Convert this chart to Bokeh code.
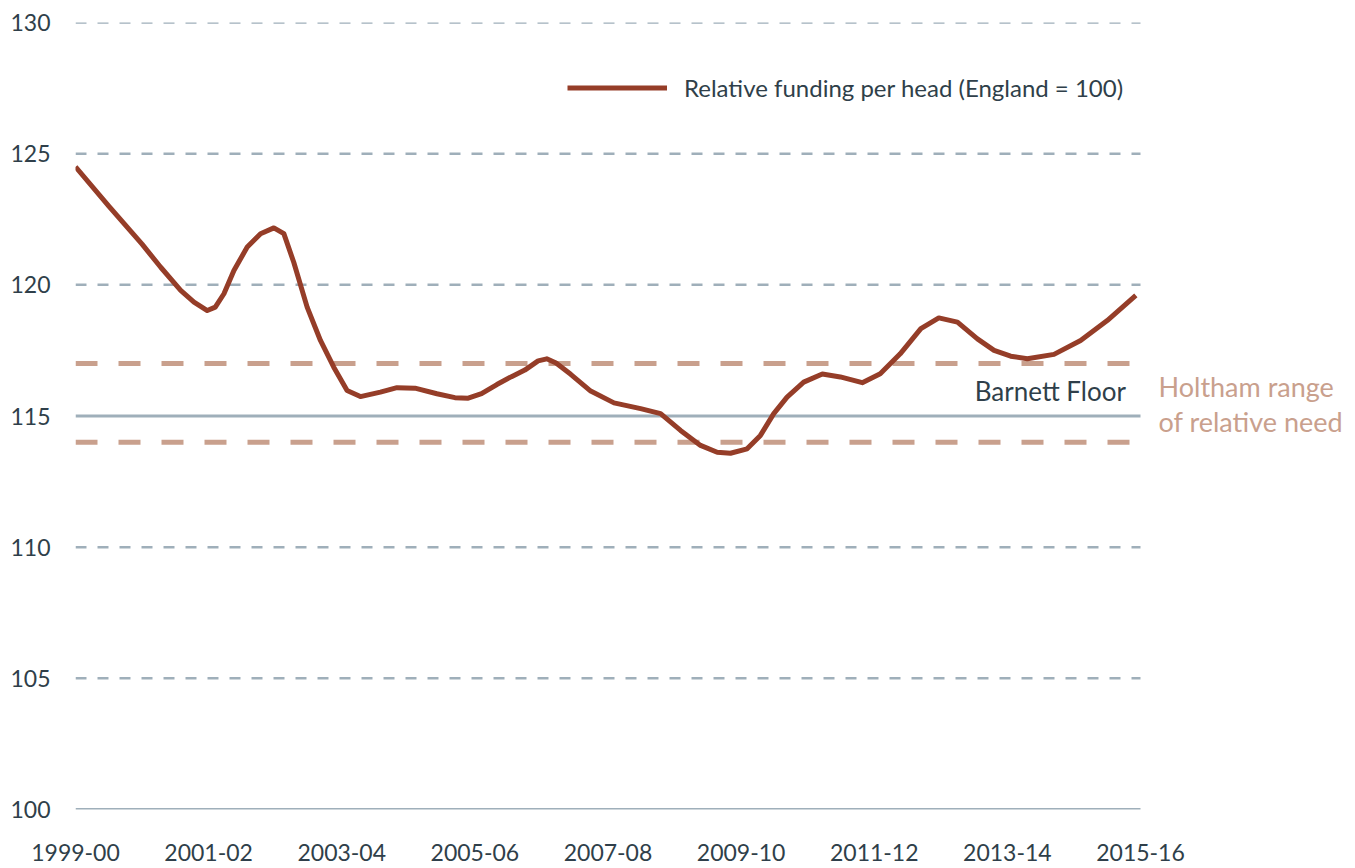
from bokeh.plotting import figure
from bokeh.models import Label, Legend, LegendItem, FixedTicker, Range1d
from bokeh.embed import file_html
from bokeh.resources import INLINE

# ---- data ----
tick_years = [1999, 2001, 2003, 2005, 2007, 2009, 2011, 2013, 2015]
tick_labels = ["1999-00", "2001-02", "2003-04", "2005-06", "2007-08",
               "2009-10", "2011-12", "2013-14", "2015-16"]
y_ticks = [100, 105, 110, 115, 120, 125, 130]

period = [1999.00, 1999.50, 2000.00, 2000.28, 2000.58, 2000.78, 2000.98, 2001.10,
          2001.23, 2001.38, 2001.58, 2001.78, 2001.98, 2002.13, 2002.28, 2002.48,
          2002.68, 2002.88, 2003.08, 2003.28, 2003.58, 2003.83, 2004.10, 2004.43,
          2004.70, 2004.90, 2005.10, 2005.33, 2005.55, 2005.75, 2005.95, 2006.08,
          2006.22, 2006.44, 2006.74, 2007.09, 2007.49, 2007.79, 2008.09, 2008.39,
          2008.64, 2008.84, 2009.09, 2009.29, 2009.49, 2009.69, 2009.94, 2010.22,
          2010.49, 2010.82, 2011.09, 2011.39, 2011.70, 2011.97, 2012.25, 2012.55,
          2012.80, 2013.05, 2013.30, 2013.70, 2014.10, 2014.50, 2014.93]
relative_funding = [124.50, 123.00, 121.55, 120.67, 119.79, 119.34, 119.02, 119.15,
                    119.66, 120.55, 121.44, 121.95, 122.17, 121.95, 120.85, 119.15,
                    117.88, 116.86, 115.97, 115.74, 115.91, 116.08, 116.06, 115.85,
                    115.70, 115.68, 115.85, 116.20, 116.50, 116.75, 117.10, 117.18,
                    117.02, 116.59, 115.95, 115.50, 115.28, 115.09, 114.45, 113.88,
                    113.62, 113.58, 113.75, 114.26, 115.09, 115.72, 116.29, 116.60,
                    116.49, 116.27, 116.61, 117.37, 118.33, 118.74, 118.58, 117.94,
                    117.50, 117.28, 117.18, 117.35, 117.88, 118.64, 119.60]

barnett_floor = 115
holtham_low = 114
holtham_high = 117

# ---- styles ----
GRID = "#9fafba"
RED = "#953d28"
SALMON = "#c9a08d"
TEXT = "#2f3f4a"
FONT = "Lato"

x_start, x_end = tick_years[0], tick_years[-1]
# extra room on the right of the frame for the annotation text
x_view_end = x_end + (x_end - x_start) * 210 / 1065

p = figure(frame_width=1275, frame_height=787, output_backend="svg",
           toolbar_location=None,
           x_range=Range1d(x_start, x_view_end), y_range=Range1d(100, 130),
           min_border_left=75, min_border_right=0, min_border_top=22,
           min_border_bottom=56)
p.outline_line_color = None
p.grid.visible = False
p.background_fill_color = "white"
p.border_fill_color = "white"

# axes
p.xaxis.ticker = FixedTicker(ticks=tick_years)
p.xaxis.major_label_overrides = {y: l for y, l in zip(tick_years, tick_labels)}
p.yaxis.ticker = FixedTicker(ticks=y_ticks)
for ax in (p.xaxis[0], p.yaxis[0]):
    ax.axis_line_color = None
    ax.major_tick_line_color = None
    ax.minor_tick_line_color = None
    ax.major_tick_out = 0
    ax.major_tick_in = 0
    ax.minor_tick_out = 0
    ax.major_label_text_font = FONT
    ax.major_label_text_font_size = "23px"
    ax.major_label_text_color = TEXT
p.xaxis.major_label_standoff = 34
p.yaxis.major_label_standoff = 25

# horizontal gridlines limited to the data period
solid = [v for v in y_ticks if v in (100, barnett_floor)]
dashed = [v for v in y_ticks if v not in (100, barnett_floor)]
p.segment(x0=[x_start] * len(dashed), x1=[x_end] * len(dashed), y0=dashed, y1=dashed,
          line_color=GRID, line_width=2.5, line_dash="11 11")
p.segment(x0=[x_start] * len(solid), x1=[x_end] * len(solid), y0=solid, y1=solid,
          line_color=GRID, line_width=2.8)
holtham = [holtham_high, holtham_low]
p.segment(x0=[x_start] * 2, x1=[x_end] * 2, y0=holtham, y1=holtham,
          line_color=SALMON, line_width=5, line_dash="22 21")

r = p.line(period, relative_funding, line_color=RED, line_width=5,
           line_join="round", line_cap="butt")

legend = Legend(items=[LegendItem(label="Relative funding per head (England = 100)",
                                  renderers=[r])],
                location=(492, 707), orientation="vertical",
                glyph_width=100, glyph_height=29, label_height=29, label_standoff=17,
                padding=0, margin=0, spacing=0,
                border_line_color=None, background_fill_alpha=0,
                label_text_font=FONT, label_text_font_size="24px",
                label_text_color=TEXT)
p.add_layout(legend)

p.add_layout(Label(x=2014.78, y=barnett_floor, y_offset=25, text="Barnett Floor",
                   text_align="right", text_baseline="alphabetic",
                   text_font=FONT, text_font_size="26px", text_color=TEXT))
p.add_layout(Label(x=x_end, y=holtham_high, x_offset=18, y_offset=-23,
                   text="Holtham range", text_align="left", text_baseline="alphabetic",
                   text_font=FONT, text_font_size="27px", text_color=SALMON))
p.add_layout(Label(x=x_end, y=holtham_high, x_offset=18, y_offset=-58,
                   text="of relative need", text_align="left", text_baseline="alphabetic",
                   text_font=FONT, text_font_size="27px", text_color=SALMON))

open("out.html", "w").write(file_html(p, INLINE))
